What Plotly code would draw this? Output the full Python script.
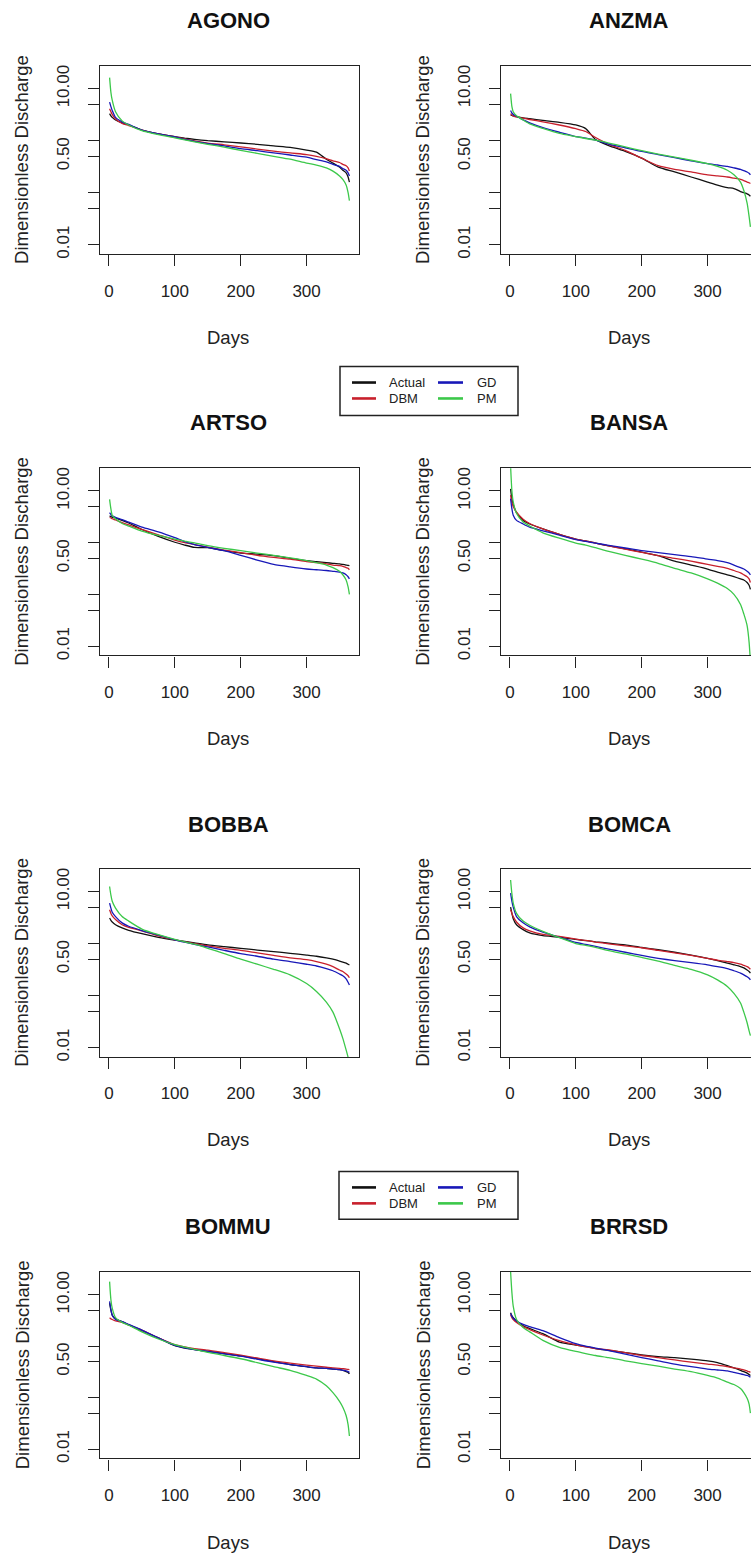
import plotly.graph_objects as go

# ---------------------------------------------------------------
# Flow duration curves: dimensionless discharge vs. exceedance day
# ---------------------------------------------------------------

DAYS = [1, 3, 5, 10, 20, 30, 50, 75, 100, 115, 130, 150, 175, 200,
        225, 250, 275, 300, 315, 330, 340, 350, 355, 360, 363, 365]

STATIONS = ["AGONO", "ANZMA", "ARTSO", "BANSA",
            "BOBBA", "BOMCA", "BOMMU", "BRRSD"]
SERIES = ["Actual", "DBM", "GD", "PM"]

X_TICKS = [0, 100, 200, 300]
Y_TICKS = [0.01, 0.05, 0.1, 0.5, 1, 5, 10]
Y_TICK_TEXT = ["0.01", "", "", "0.50", "", "", "10.00"]

#               1    3    5   10   20   30   50   75  100  115  130  150  175  200
#             225  250  275  300  315  330  340  350  355  360  363  365
AGONO_ACTUAL = [3.3, 3.0, 2.8, 2.5, 2.2, 2.0, 1.6, 1.35, 1.2, 1.12, 1.06, 1.0, 0.95, 0.9,
                0.85, 0.79, 0.74, 0.66, 0.6, 0.44, 0.37, 0.31, 0.27, 0.24, 0.2, 0.16]
AGONO_DBM = [4.1, 3.6, 3.2, 2.6, 2.15, 1.95, 1.6, 1.35, 1.18, 1.08, 0.99, 0.9, 0.83, 0.76,
             0.69, 0.63, 0.58, 0.54, 0.5, 0.45, 0.41, 0.38, 0.35, 0.33, 0.3, 0.26]
AGONO_GD = [5.5, 4.5, 3.8, 2.8, 2.3, 2.05, 1.6, 1.35, 1.18, 1.06, 0.97, 0.88, 0.79, 0.7,
            0.64, 0.58, 0.53, 0.48, 0.43, 0.39, 0.35, 0.32, 0.29, 0.27, 0.24, 0.21]
AGONO_PM = [16.3, 8.5, 6.0, 3.6, 2.4, 2.0, 1.55, 1.3, 1.13, 1.03, 0.95, 0.85, 0.75, 0.65,
            0.57, 0.5, 0.44, 0.37, 0.34, 0.3, 0.26, 0.21, 0.18, 0.14, 0.1, 0.07]

ANZMA_ACTUAL = [3.1, 3.05, 3.0, 2.9, 2.75, 2.65, 2.45, 2.25, 2.0, 1.7, 1.05, 0.8, 0.62, 0.46,
                0.31, 0.25, 0.2, 0.16, 0.14, 0.125, 0.12, 0.105, 0.1, 0.095, 0.09, 0.085]
ANZMA_DBM = [3.3, 3.1, 3.0, 2.85, 2.7, 2.55, 2.3, 2.0, 1.7, 1.5, 1.15, 0.85, 0.65, 0.46,
             0.33, 0.28, 0.25, 0.22, 0.21, 0.2, 0.19, 0.18, 0.17, 0.16, 0.155, 0.15]
ANZMA_GD = [3.8, 3.4, 3.2, 2.95, 2.5, 2.2, 1.78, 1.45, 1.2, 1.12, 1.02, 0.86, 0.73, 0.62,
            0.54, 0.47, 0.41, 0.36, 0.34, 0.32, 0.3, 0.28, 0.265, 0.25, 0.235, 0.22]
ANZMA_PM = [8.0, 4.5, 3.6, 3.0, 2.5, 2.1, 1.72, 1.38, 1.2, 1.1, 1.02, 0.9, 0.76, 0.64,
            0.55, 0.48, 0.42, 0.36, 0.32, 0.27, 0.22, 0.16, 0.11, 0.063, 0.035, 0.022]

ARTSO_ACTUAL = [3.3, 3.2, 3.1, 3.0, 2.7, 2.4, 1.8, 1.32, 1.02, 0.9, 0.81, 0.8, 0.7, 0.63,
                0.6, 0.56, 0.5, 0.45, 0.43, 0.41, 0.4, 0.39, 0.38, 0.37, 0.365, 0.36]
ARTSO_DBM = [3.07, 3.0, 2.9, 2.75, 2.45, 2.2, 1.8, 1.42, 1.12, 1.0, 0.92, 0.82, 0.72, 0.64,
             0.57, 0.52, 0.48, 0.43, 0.41, 0.39, 0.37, 0.36, 0.35, 0.33, 0.32, 0.3]
ARTSO_GD = [3.8, 3.5, 3.3, 3.1, 2.8, 2.5, 2.0, 1.62, 1.25, 1.05, 0.92, 0.81, 0.7, 0.57,
            0.46, 0.38, 0.34, 0.31, 0.3, 0.29, 0.28, 0.27, 0.26, 0.24, 0.22, 0.2]
ARTSO_PM = [6.9, 4.5, 3.4, 2.9, 2.35, 2.1, 1.68, 1.38, 1.17, 1.07, 0.99, 0.88, 0.78, 0.7,
            0.63, 0.57, 0.51, 0.45, 0.41, 0.37, 0.33, 0.28, 0.24, 0.19, 0.14, 0.10]

BANSA_ACTUAL = [11.0, 7.0, 5.5, 3.8, 2.7, 2.3, 1.85, 1.45, 1.17, 1.08, 0.98, 0.87, 0.76, 0.66,
                0.56, 0.44, 0.37, 0.31, 0.27, 0.24, 0.22, 0.2, 0.19, 0.17, 0.15, 0.125]
BANSA_DBM = [8.3, 6.0, 5.0, 3.9, 2.85, 2.35, 1.85, 1.45, 1.17, 1.08, 0.98, 0.87, 0.75, 0.65,
             0.56, 0.5, 0.44, 0.38, 0.35, 0.32, 0.29, 0.26, 0.24, 0.22, 0.2, 0.17]
BANSA_GD = [7.1, 4.5, 3.4, 2.7, 2.3, 2.0, 1.7, 1.4, 1.15, 1.06, 0.98, 0.89, 0.79, 0.7,
            0.64, 0.59, 0.54, 0.48, 0.45, 0.41, 0.37, 0.33, 0.31, 0.28, 0.26, 0.24]
BANSA_PM = [30.0, 10.0, 6.15, 3.7, 2.5, 2.1, 1.55, 1.22, 0.98, 0.9, 0.8, 0.68, 0.57, 0.48,
            0.4, 0.32, 0.26, 0.2, 0.165, 0.13, 0.1, 0.064, 0.042, 0.025, 0.012, 0.005]

BOBBA_ACTUAL = [3.1, 2.8, 2.6, 2.3, 2.0, 1.8, 1.55, 1.32, 1.17, 1.1, 1.03, 0.94, 0.87, 0.81,
                0.75, 0.7, 0.65, 0.6, 0.57, 0.53, 0.5, 0.46, 0.44, 0.42, 0.4, 0.39]
BOBBA_DBM = [4.45, 3.8, 3.4, 2.9, 2.3, 2.05, 1.75, 1.4, 1.18, 1.08, 1.0, 0.9, 0.81, 0.74,
             0.66, 0.59, 0.53, 0.49, 0.45, 0.4, 0.36, 0.31, 0.29, 0.26, 0.24, 0.22]
BOBBA_GD = [6.0, 4.8, 4.0, 3.3, 2.5, 2.15, 1.78, 1.45, 1.18, 1.06, 0.96, 0.86, 0.74, 0.64,
            0.57, 0.5, 0.45, 0.4, 0.37, 0.33, 0.3, 0.26, 0.24, 0.21, 0.18, 0.16]
BOBBA_PM = [12.5, 8.5, 6.5, 4.8, 3.3, 2.7, 1.9, 1.48, 1.2, 1.08, 0.97, 0.81, 0.64, 0.5,
            0.4, 0.32, 0.25, 0.17, 0.12, 0.075, 0.048, 0.023, 0.015, 0.009, 0.0065, 0.005]

BOMCA_ACTUAL = [5.0, 3.8, 3.0, 2.3, 1.85, 1.6, 1.42, 1.33, 1.2, 1.14, 1.08, 1.02, 0.94, 0.84,
                0.76, 0.68, 0.6, 0.52, 0.47, 0.42, 0.39, 0.36, 0.34, 0.31, 0.29, 0.27]
BOMCA_DBM = [4.45, 3.8, 3.3, 2.6, 2.0, 1.75, 1.5, 1.38, 1.22, 1.15, 1.07, 0.99, 0.9, 0.83,
             0.74, 0.66, 0.59, 0.52, 0.48, 0.45, 0.43, 0.4, 0.38, 0.36, 0.34, 0.32]
BOMCA_GD = [9.3, 6.5, 5.0, 3.3, 2.5, 2.1, 1.65, 1.32, 1.05, 0.96, 0.88, 0.78, 0.68, 0.59,
            0.52, 0.47, 0.43, 0.39, 0.36, 0.33, 0.3, 0.27, 0.25, 0.23, 0.215, 0.2]
BOMCA_PM = [16.7, 9.0, 6.0, 3.8, 2.7, 2.25, 1.72, 1.3, 1.0, 0.92, 0.84, 0.73, 0.63, 0.54,
            0.46, 0.38, 0.32, 0.25, 0.2, 0.15, 0.11, 0.072, 0.048, 0.03, 0.021, 0.017]

BOMMU_ACTUAL = [6.9, 5.0, 4.0, 3.4, 3.0, 2.6, 2.0, 1.45, 1.02, 0.92, 0.86, 0.79, 0.72, 0.65,
                0.57, 0.5, 0.44, 0.4, 0.38, 0.37, 0.36, 0.35, 0.34, 0.32, 0.31, 0.29]
BOMMU_DBM = [3.56, 3.4, 3.3, 3.1, 2.9, 2.6, 2.05, 1.45, 1.07, 0.97, 0.9, 0.84, 0.75, 0.67,
             0.59, 0.52, 0.47, 0.43, 0.41, 0.39, 0.38, 0.37, 0.365, 0.36, 0.355, 0.35]
BOMMU_GD = [7.45, 5.2, 4.0, 3.3, 3.0, 2.65, 2.05, 1.45, 1.04, 0.93, 0.86, 0.79, 0.71, 0.64,
            0.56, 0.49, 0.44, 0.4, 0.38, 0.37, 0.36, 0.35, 0.34, 0.33, 0.32, 0.31]
BOMMU_PM = [18.0, 8.0, 5.5, 3.6, 2.9, 2.55, 1.9, 1.38, 1.07, 0.96, 0.87, 0.76, 0.66, 0.57,
            0.48, 0.4, 0.34, 0.27, 0.23, 0.17, 0.125, 0.085, 0.065, 0.045, 0.03, 0.018]

BRRSD_ACTUAL = [4.45, 3.9, 3.6, 3.1, 2.5, 2.2, 1.75, 1.2, 1.05, 0.98, 0.9, 0.83, 0.75, 0.68,
                0.63, 0.6, 0.56, 0.52, 0.48, 0.42, 0.38, 0.34, 0.32, 0.3, 0.28, 0.27]
BRRSD_DBM = [4.1, 3.6, 3.3, 2.9, 2.4, 2.1, 1.65, 1.28, 1.06, 0.97, 0.9, 0.85, 0.75, 0.66,
             0.6, 0.54, 0.49, 0.45, 0.43, 0.4, 0.38, 0.36, 0.345, 0.33, 0.32, 0.31]
BRRSD_GD = [4.3, 3.8, 3.5, 3.1, 2.65, 2.4, 2.0, 1.47, 1.12, 1.0, 0.92, 0.82, 0.7, 0.6,
            0.52, 0.45, 0.4, 0.36, 0.345, 0.33, 0.31, 0.29, 0.28, 0.27, 0.26, 0.25]
BRRSD_PM = [28.0, 11.0, 6.0, 3.3, 2.3, 1.9, 1.3, 0.95, 0.79, 0.72, 0.66, 0.6, 0.52, 0.46,
            0.41, 0.36, 0.32, 0.27, 0.24, 0.2, 0.18, 0.15, 0.125, 0.097, 0.075, 0.05]

CURVES = {
    "AGONO": [AGONO_ACTUAL, AGONO_DBM, AGONO_GD, AGONO_PM],
    "ANZMA": [ANZMA_ACTUAL, ANZMA_DBM, ANZMA_GD, ANZMA_PM],
    "ARTSO": [ARTSO_ACTUAL, ARTSO_DBM, ARTSO_GD, ARTSO_PM],
    "BANSA": [BANSA_ACTUAL, BANSA_DBM, BANSA_GD, BANSA_PM],
    "BOBBA": [BOBBA_ACTUAL, BOBBA_DBM, BOBBA_GD, BOBBA_PM],
    "BOMCA": [BOMCA_ACTUAL, BOMCA_DBM, BOMCA_GD, BOMCA_PM],
    "BOMMU": [BOMMU_ACTUAL, BOMMU_DBM, BOMMU_GD, BOMMU_PM],
    "BRRSD": [BRRSD_ACTUAL, BRRSD_DBM, BRRSD_GD, BRRSD_PM],
}

COLORS = ["#111111", "#C8202C", "#1818B8", "#3CC84A"]

# ---------------------------------------------------------------
# Page geometry (pixels)
# ---------------------------------------------------------------
W, H = 751, 1562
ROW_BOX = [(65, 254), (469, 657), (871, 1060), (1276, 1463)]
ROW_TITLE_Y = [20, 423, 827, 1230]
ROW_DAYS_Y = [338, 740, 1143, 1547]
COL_BOX = [(100, 359), (501, 751)]
COL_CENTER = [228, 629]
COL_YLABEL_X = [22, 423]
X_RANGE_FULL = [-13.56, 379.56]
# right column is clipped by the page edge
X_RANGE_CLIP = [-13.56, -13.56 + (250 / 259) * (379.56 + 13.56)]
Y_RANGE_LOG = [-2.18, 1.44]

FONT = "Liberation Sans, Arial, sans-serif"


def px(x):
    return x / W


def py(y):
    return 1 - y / H


fig = go.Figure()
annotations = []
shapes = []

for i, name in enumerate(STATIONS):
    row, col = divmod(i, 2)
    k = "" if i == 0 else str(i + 1)
    xa, ya = "x" + k, "y" + k
    for s, (label, vals) in enumerate(zip(SERIES, CURVES[name])):
        fig.add_trace(go.Scatter(
            x=DAYS, y=vals, mode="lines", name=label,
            line=dict(color=COLORS[s], width=1.3, shape="spline", smoothing=0.6),
            xaxis=xa, yaxis=ya, showlegend=False, hoverinfo="skip",
        ))

    top, bot = ROW_BOX[row]
    left, right = COL_BOX[col]
    common = dict(showline=True, linecolor="#222222", linewidth=1.3,
                  ticks="outside", ticklen=11, tickwidth=1.2, tickcolor="#222222",
                  showgrid=False, zeroline=False,
                  tickfont=dict(family=FONT, size=17, color="#222222"))
    fig.layout["xaxis" + k] = dict(
        domain=[px(left), px(right)], anchor=ya,
        range=X_RANGE_FULL if col == 0 else X_RANGE_CLIP,
        tickvals=X_TICKS, ticklabelstandoff=10, mirror=True, **common)
    fig.layout["yaxis" + k] = dict(
        domain=[py(bot), py(top)], anchor=xa, type="log",
        range=Y_RANGE_LOG, tickvals=Y_TICKS, ticktext=Y_TICK_TEXT,
        tickangle=-90, ticklabelstandoff=12,
        mirror=(col == 0), **common)

    annotations.append(dict(
        text="<b>%s</b>" % name, x=px(COL_CENTER[col]), y=py(ROW_TITLE_Y[row]),
        xref="paper", yref="paper", xanchor="center", yanchor="middle",
        showarrow=False, font=dict(family=FONT, size=22, color="#111111")))
    annotations.append(dict(
        text="Days", x=px(COL_CENTER[col]), y=py(ROW_DAYS_Y[row]),
        xref="paper", yref="paper", xanchor="center", yanchor="middle",
        showarrow=False, font=dict(family=FONT, size=18.5, color="#222222")))
    annotations.append(dict(
        text="Dimensionless Discharge", x=px(COL_YLABEL_X[col]),
        y=py((top + bot) / 2), textangle=-90,
        xref="paper", yref="paper", xanchor="center", yanchor="middle",
        showarrow=False, font=dict(family=FONT, size=18.5, color="#222222")))

# ---------------------------------------------------------------
# Key boxes between the panel rows
# ---------------------------------------------------------------
KEY_BOXES = [(340, 518, 367, 416), (339, 518, 1175, 1223)]
KEY_COLS = [(352, 376, 387), (438, 463, 475)]
KEY_ORDER = [[0, 1], [2, 3]]  # column-wise: Actual/DBM, GD/PM

for (x0, x1, y0, y1) in KEY_BOXES:
    shapes.append(dict(type="rect", xref="paper", yref="paper",
                       x0=px(x0), x1=px(x1), y0=py(y1), y1=py(y0),
                       line=dict(color="#222222", width=1.5),
                       fillcolor="white"))
    for c, (lx0, lx1, tx) in enumerate(KEY_COLS):
        for r, s in enumerate(KEY_ORDER[c]):
            yy = y0 + 16 + 16 * r
            shapes.append(dict(type="line", xref="paper", yref="paper",
                               x0=px(lx0), x1=px(lx1), y0=py(yy), y1=py(yy),
                               line=dict(color=COLORS[s], width=2.6)))
            annotations.append(dict(
                text=SERIES[s], x=px(tx), y=py(yy),
                xref="paper", yref="paper", xanchor="left", yanchor="middle",
                showarrow=False,
                font=dict(family=FONT, size=13, color="#222222")))

fig.update_layout(
    width=W, height=H, autosize=False,
    margin=dict(l=0, r=0, t=0, b=0),
    paper_bgcolor="white", plot_bgcolor="white",
    showlegend=False,
    annotations=annotations, shapes=shapes,
)

fig.write_html("out.html", config={"displayModeBar": False})
